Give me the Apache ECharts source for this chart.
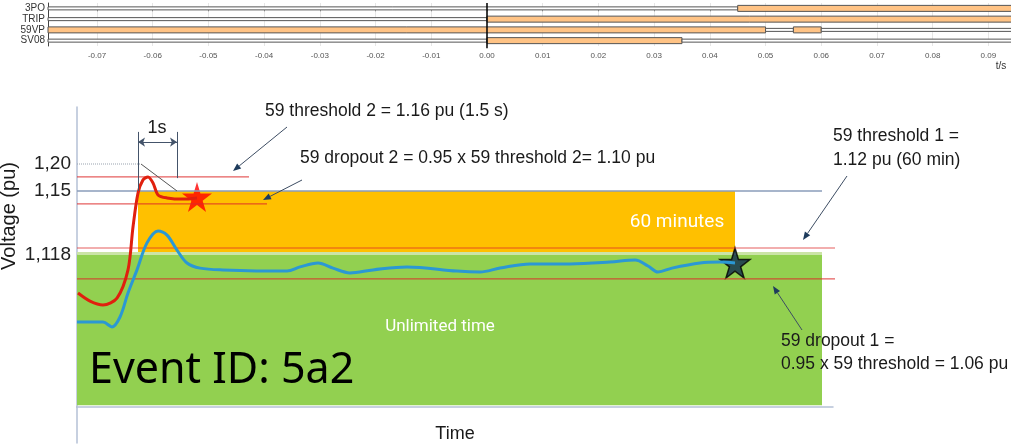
<!DOCTYPE html>
<html>
<head>
<meta charset="utf-8">
<script src="https://cdn.jsdelivr.net/npm/echarts@6/dist/echarts.min.js"></script>
<style>
  html, body { margin: 0; background: #fff; }
  #chart { width: 1011px; height: 447px; }
</style>
</head>
<body>
<div id="chart"></div>
<script>
// 顶部录波：开关量通道
const signals = ['3PO', 'TRIP', '59VP', 'SV08']
const signalRows = [0, 1, 2, 3]
const tMin = -0.0788
const tMax = 0.0946
// 每段 [起点 s, 终点 s, 状态]
const seg3PO = [[tMin, 0.045, 0], [0.045, tMax, 1]]
const segTRIP = [[tMin, 0, 0], [0, tMax, 1]]
const seg59VP = [[tMin, 0.05, 1], [0.05, 0.055, 0], [0.055, 0.06, 1], [0.06, tMax, 0]]
const segSV08 = [[tMin, 0, 0], [0, 0.035, 1], [0.035, tMax, 0]]

// 下方示意图：横轴时间 (s)，纵轴为示意电压刻度（非线性标注）
const yTickLevels = [81, 72, 50.7]
const yTickLabels = ['1,20', '1,15', '1,118']

const redTime = [0.025, 0.325, 0.65, 1.0, 1.275, 1.4, 1.525, 1.65, 1.775, 1.9, 2.025, 2.25, 2.65, 3.0]
const redLevel = [38, 35.3, 34, 36.3, 45.7, 60, 71.3, 75.7, 76.7, 74.7, 70.7, 69.7, 69.3, 69.7]

const blueTime = [0, 0.65, 0.875, 1.075, 1.275, 1.5, 1.75, 2.025, 2.25, 2.5, 2.75, 3.075, 3.65, 5.25, 5.575,
  6.025, 6.4, 6.825, 7.4, 8.25, 9.5, 10.075, 10.575, 11.325, 12.325, 13.325, 13.95, 14.275, 14.525, 14.875,
  15.575, 16.075, 16.45]
const blueLevel = [28.3, 28.3, 26.7, 30, 38, 45.7, 54.7, 58.7, 57.3, 52.3, 48, 46.3, 45.7, 45.3, 46.7,
  48, 46.3, 44.7, 45.7, 46.7, 45.3, 45, 46.3, 47.7, 47.7, 48.3, 49, 47, 45, 46.3,
  48, 48.3, 48]

// 门槛线：[纵向刻度, 终止时间]
const thresholdLines = [[76.7, 4.3], [67.7, 4.75], [53, 19.25], [42.7, 19.25]]
const refLine115 = [72, 18.625]
const dottedLine120 = [[0, 81], [1.6, 81]]
const slopeLine = [[1.6, 81], [2.5, 72]]
// 时间轴基线向左延伸段
const baseLineLeft = [[-1.85, 0], [0, 0]]

// 区域：[t0, t1, 下沿, 上沿]
const zone60min = [1.525, 16.45, 51.7, 72]
const zoneUnlimited = [0, 18.625, 0.6, 50.8]
const zoneSeam = [0, 18.625, 50.8, 51.7]

const redStar = [3.0, 70]
const blueStar = [16.45, 48]
const oneSecond = [1.525, 2.5]

const starPath = 'path://M50,0 L61,35 L98,35 L68,57 L79,91 L50,70 L21,91 L32,57 L2,35 L39,35 Z'
const txtFont = 'Liberation Sans'
const axisGrey = '#b5c1d6'

const zip = (a, b) => a.map((v, i) => [v, b[i]])

// 按刻度值取对应文字
const pickLabel = (values, labels) => v => {
  const i = values.findIndex(x => Math.abs(x - Number(v)) < 0.01)
  return i < 0 ? '' : labels[i]
}

const segData = [seg3PO, segTRIP, seg59VP, segSV08]
  .flatMap((segs, row) => segs.map(([s, e, on]) => [s, e, signalRows[row], on]))

/* 注释箭头 */
const arrow = (x1, y1, x2, y2) => {
  const a = Math.atan2(y2 - y1, x2 - x1)
  const L = 8, W = 3.2
  const bx = x2 - L * Math.cos(a), by = y2 - L * Math.sin(a)
  return [
    { type: 'line', shape: { x1, y1, x2: bx, y2: by }, style: { stroke: '#3d4d63', lineWidth: 1 }, z: 100 },
    {
      type: 'polygon',
      shape: { points: [[x2, y2], [bx + W * Math.sin(a), by - W * Math.cos(a)], [bx - W * Math.sin(a), by + W * Math.cos(a)]] },
      style: { fill: '#1e3b5c' },
      z: 100
    }
  ]
}

const text = (x, y, t, extra = {}) => ({
  type: 'text',
  x, y,
  z: 100,
  style: Object.assign({ text: t, font: `17.5px "${txtFont}"`, fill: '#1a1a1a', verticalAlign: 'middle' }, extra)
})

const hLine = (data, color, width, type = 'solid') => ({
  type: 'line',
  xAxisIndex: 1,
  yAxisIndex: 1,
  data,
  showSymbol: false,
  clip: false,
  silent: true,
  lineStyle: { color, width, type }
})

const chart = echarts.init(document.getElementById('chart'))

chart.setOption({
  animation: false,
  backgroundColor: '#fff',
  grid: [
    { left: 48, right: -3, top: 3, bottom: 401, outerBoundsMode: 'none' },
    { left: 77, right: 178, top: 107, bottom: 4, outerBoundsMode: 'none' }
  ],
  xAxis: [
    {
      gridIndex: 0,
      type: 'value',
      min: tMin,
      max: tMax,
      splitNumber: 17,
      minInterval: 0.01,
      maxInterval: 0.01,
      axisLine: { show: false },
      axisTick: { show: true, length: 3, lineStyle: { color: '#999' } },
      axisLabel: {
        fontSize: 8,
        color: '#555',
        margin: 6,
        showMinLabel: false,
        showMaxLabel: false,
        formatter: v => v.toFixed(2)
      },
      splitLine: { show: true, lineStyle: { color: '#e6e6e6' } }
    },
    {
      gridIndex: 1,
      type: 'value',
      min: 0,
      max: 18.9,
      axisLine: { onZero: true, lineStyle: { color: axisGrey, width: 1.5 } },
      axisTick: { show: false },
      axisLabel: { show: false },
      splitLine: { show: false }
    }
  ],
  yAxis: [
    {
      gridIndex: 0,
      type: 'value',
      inverse: true,
      min: -0.5,
      max: 3.5,
      axisLine: { show: true, onZero: false, lineStyle: { color: '#444' } },
      axisTick: { show: false },
      splitLine: { show: false },
      axisLabel: {
        customValues: signalRows,
        formatter: pickLabel(signalRows, signals),
        showMinLabel: true,
        showMaxLabel: true,
        hideOverlap: false,
        fontSize: 10,
        lineHeight: 10,
        color: '#333',
        margin: 3,
        fontFamily: txtFont
      }
    },
    {
      gridIndex: 1,
      type: 'value',
      min: -12,
      max: 100,
      axisLine: { show: true, onZero: false, lineStyle: { color: axisGrey, width: 1.5 } },
      axisTick: { show: false },
      splitLine: { show: false },
      axisLabel: {
        customValues: yTickLevels,
        formatter: pickLabel(yTickLevels, yTickLabels),
        showMinLabel: true,
        showMaxLabel: true,
        hideOverlap: false,
        fontSize: 19,
        fontFamily: txtFont,
        color: '#222',
        margin: 6
      }
    }
  ],
  series: [
    {
      type: 'custom',
      xAxisIndex: 0,
      yAxisIndex: 0,
      encode: { x: [0, 1], y: 2 },
      data: segData,
      renderItem: (params, api) => {
        const row = api.value(2)
        const on = api.value(3)
        const p0 = api.coord([api.value(0), row])
        const p1 = api.coord([api.value(1), row])
        const h = on ? 6 : 3
        return {
          type: 'rect',
          shape: { x: p0[0], y: p0[1] - h / 2, width: p1[0] - p0[0], height: h },
          style: { fill: on ? '#ffc385' : '#fff', stroke: '#555', lineWidth: 1 }
        }
      }
    },
    // 0 时刻竖线
    {
      type: 'line',
      xAxisIndex: 0,
      yAxisIndex: 0,
      data: [[0, -0.5], [0, 3.7]],
      showSymbol: false,
      clip: false,
      silent: true,
      z: 5,
      lineStyle: { color: '#000', width: 1.5 }
    },
    // 区域
    {
      type: 'line',
      xAxisIndex: 1,
      yAxisIndex: 1,
      data: [],
      silent: true,
      markArea: {
        silent: true,
        data: [zoneUnlimited, zoneSeam, zone60min].map(([t0, t1, lo, hi], i) => [
          { coord: [t0, hi], itemStyle: { color: ['#92d050', '#cbe4a6', '#ffc000'][i] } },
          { coord: [t1, lo] }
        ])
      }
    },
    hLine(baseLineLeft, axisGrey, 1.5),
    hLine([[0, refLine115[0]], [refLine115[1], refLine115[0]]], '#8a9dba', 1.5),
    ...thresholdLines.map(([lvl, end]) => hLine([[0, lvl], [end, lvl]], 'rgba(222,40,40,0.75)', 1.2)),
    hLine(dottedLine120, '#9aa3b0', 1, 'dotted'),
    hLine(slopeLine, '#555', 1),
    // 1s 标注
    {
      type: 'line',
      xAxisIndex: 1,
      yAxisIndex: 1,
      data: [],
      silent: true,
      markLine: {
        silent: true,
        symbol: 'none',
        symbolSize: 7,
        label: { show: false },
        lineStyle: { color: '#44546a', width: 1, type: 'solid' },
        data: [
          [{ coord: [oneSecond[0], 91.7] }, { coord: [oneSecond[0], 72] }],
          [{ coord: [oneSecond[1], 91.7] }, { coord: [oneSecond[1], 76.3] }],
          [{ coord: [oneSecond[0], 88.3], symbol: 'arrow' }, { coord: [oneSecond[1], 88.3], symbol: 'arrow' }]
        ]
      }
    },
    {
      type: 'line',
      xAxisIndex: 1,
      yAxisIndex: 1,
      data: zip(blueTime, blueLevel),
      smooth: 0.35,
      showSymbol: false,
      silent: true,
      lineStyle: { color: '#2b98d4', width: 3 }
    },
    {
      type: 'line',
      xAxisIndex: 1,
      yAxisIndex: 1,
      data: zip(redTime, redLevel),
      smooth: 0.3,
      showSymbol: false,
      silent: true,
      lineStyle: { color: '#e0200e', width: 3 }
    },
    {
      type: 'scatter',
      xAxisIndex: 1,
      yAxisIndex: 1,
      silent: true,
      symbol: starPath,
      symbolSize: 30,
      data: [
        { value: redStar, itemStyle: { color: '#ff0000', borderWidth: 0 } },
        { value: blueStar, itemStyle: { color: '#0f2a4f', borderColor: '#000', borderWidth: 1.5 } }
      ]
    }
  ],
  graphic: [
    text(1001, 66, 't/s', { font: `10px "${txtFont}"`, fill: '#333', align: 'center' }),
    Object.assign(text(0, 0, 'Voltage (pu)', { font: `20px "${txtFont}"`, align: 'center' }), { x: 9, y: 216, rotation: Math.PI / 2 }),
    text(455, 434, 'Time', { font: `18px "${txtFont}"`, align: 'center' }),
    text(157, 128, '1s', { font: `18px "${txtFont}"`, align: 'center' }),
    text(265, 111, '59 threshold 2 = 1.16 pu (1.5 s)'),
    text(300, 158, '59 dropout 2 = 0.95 x 59 threshold 2= 1.10 pu'),
    text(833, 136, '59 threshold 1 ='),
    text(833, 160, '1.12 pu (60 min)'),
    text(781, 341, '59 dropout 1 ='),
    text(781, 364, '0.95 x 59 threshold = 1.06 pu'),
    text(677, 222, '60 minutes', { font: '19px Roboto', fill: '#fff', align: 'center' }),
    text(440, 327, 'Unlimited time', { font: '17px Roboto', fill: '#fff', align: 'center' }),
    text(89, 371, 'Event ID: 5a2', { font: '43px "Noto Sans"', fill: '#000' }),
    ...arrow(287, 127, 233, 171),
    ...arrow(302, 180, 263, 200),
    ...arrow(847, 176, 803, 240),
    ...arrow(802, 330, 773, 286)
  ]
})
</script>
</body>
</html>
